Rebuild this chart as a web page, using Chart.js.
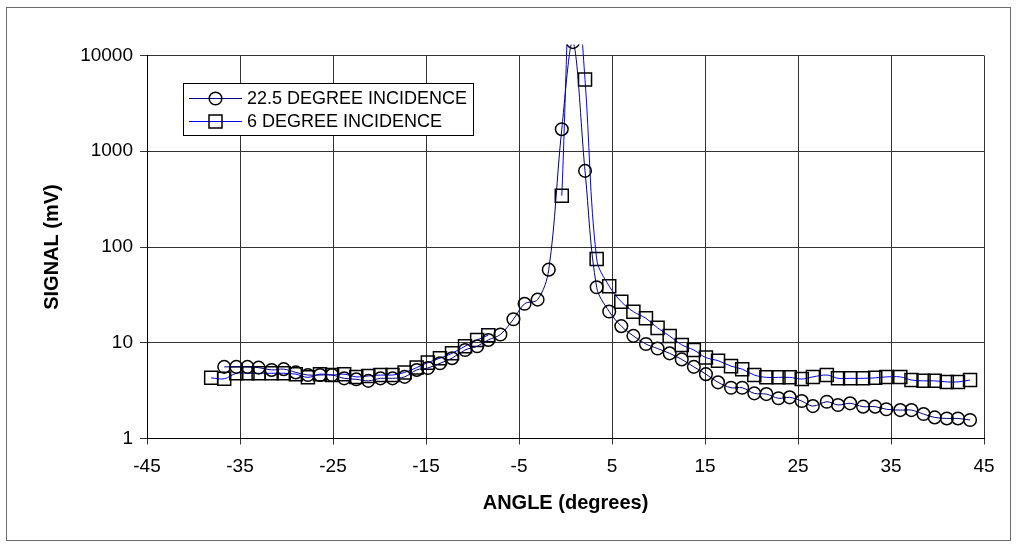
<!DOCTYPE html>
<html>
<head>
<meta charset="utf-8">
<script src="https://cdn.jsdelivr.net/npm/chart.js@4.4.1/dist/chart.umd.min.js"></script>
<style>
  html, body { margin: 0; padding: 0; background: #fff; }
  canvas { display: block; }
</style>
</head>
<body>
<canvas id="chart" width="1016" height="547"></canvas>
<script>
// Measurement angles (degrees), shared by both incidence series
const angles = [-38.1, -36.7, -35.4, -34.2, -33.0, -31.6, -30.3, -29.0, -27.7, -26.4,
  -25.1, -23.8, -22.5, -21.2, -19.9, -18.6, -17.3, -16.0, -14.8, -13.5,
  -12.2, -10.8, -9.5, -8.3, -7.0, -5.6, -4.4, -3.0, -1.8, -0.4,
  0.8, 2.1, 3.35, 4.7, 6.0, 7.3, 8.65, 9.9, 11.2, 12.5,
  13.8, 15.1, 16.4, 17.8, 19.0, 20.3, 21.6, 22.9, 24.1, 25.4,
  26.6, 28.1, 29.3, 30.6, 32.0, 33.3, 34.5, 36.0, 37.2, 38.5,
  39.7, 41.0, 42.2, 43.5];

// Signal (mV) at 22.5 degree incidence
const signal22 = [null, 5.6, 5.6, 5.6, 5.5, 5.2, 5.3, 4.9, 4.6, 4.6,
  4.6, 4.25, 4.15, 4.0, 4.25, 4.25, 4.4, 5.2, 5.45, 6.1,
  6.9, 8.4, 9.2, 10.7, 12.2, 17.6, 25.5, 28.2, 58, 1700,
  13800, 624, 38, 21.2, 14.9, 11.8, 9.7, 8.7, 7.75, 6.7,
  5.6, 4.7, 3.86, 3.39, 3.39, 2.96, 2.91, 2.63, 2.69, 2.46,
  2.18, 2.42, 2.24, 2.33, 2.15, 2.15, 2.02, 1.98, 1.98, 1.80,
  1.66, 1.62, 1.62, 1.56];

// Signal (mV) at 6 degree incidence (no readings between -8 and -1 degrees)
const signal6 = [4.3, 4.2, 4.8, 4.8, 4.8, 4.8, 4.8, 4.7, 4.35, 4.7,
  4.6, 4.7, 4.4, 4.5, 4.6, 4.6, 4.9, 5.5, 6.2, 6.9,
  7.75, 9.2, 10.7, 12.0, null, null, null, null, null, 343,
  150000, 5600, 75, 39, 26.8, 21.1, 18.0, 14.3, 11.75, 9.5,
  8.4, 7.0, 6.5, 5.7, 5.3, 4.6, 4.35, 4.35, 4.35, 4.18,
  4.4, 4.6, 4.25, 4.25, 4.25, 4.3, 4.4, 4.4, 4.08, 4.0,
  4.0, 3.9, 3.9, 4.08];

const seriesLabels = ['22.5 DEGREE INCIDENCE', '6 DEGREE INCIDENCE'];
const xTicks = [-45, -35, -25, -15, -5, 5, 15, 25, 35, 45];
const yTicks = [1, 10, 100, 1000, 10000];

const FONT = '"Liberation Sans", Arial, Helvetica, sans-serif';

const toPoints = (ys) => angles.map((a, i) => ({ x: a, y: ys[i] }));

// How far lines and markers may run past the plot area
const clipArea = { left: 10, top: 11, right: 10, bottom: 10 };

// White page with a thin frame round the whole chart
const framePlugin = {
  id: 'frame',
  beforeDraw(chart) {
    const ctx = chart.ctx;
    ctx.save();
    ctx.fillStyle = '#fff';
    ctx.fillRect(0, 0, chart.width, chart.height);
    ctx.restore();
  },
  afterDraw(chart) {
    const ctx = chart.ctx;
    ctx.save();
    ctx.strokeStyle = '#6a6a6a';
    ctx.lineWidth = 1;
    ctx.strokeRect(6.5, 7.5, 1004, 533);
    ctx.restore();
  }
};

function drawMarker(ctx, style, x, y, r) {
  ctx.beginPath();
  if (style === 'circle') {
    ctx.arc(x, y, r, 0, Math.PI * 2);
  } else {
    const h = r * Math.SQRT1_2;
    ctx.rect(x - h, y - h, 2 * h, 2 * h);
  }
  ctx.stroke();
}

// Markers just above the top of the axis (off-scale peak) are still shown,
// cut at the same margin as the lines; then the boxed legend is drawn.
const overlayPlugin = {
  id: 'overlay',
  afterDatasetsDraw(chart) {
    const ctx = chart.ctx;
    const area = chart.chartArea;
    ctx.save();
    ctx.beginPath();
    ctx.rect(area.left - clipArea.left, area.top - clipArea.top,
      area.right - area.left + clipArea.left + clipArea.right,
      area.bottom - area.top + clipArea.top + clipArea.bottom);
    ctx.clip();
    chart.data.datasets.forEach((ds, i) => {
      const meta = chart.getDatasetMeta(i);
      meta.data.forEach((pt) => {
        if (pt.skip || !isFinite(pt.y)) return;
        if (pt.y < area.top && pt.y > area.top - clipArea.top - ds.pointRadius) {
          ctx.strokeStyle = ds.pointBorderColor;
          ctx.lineWidth = ds.pointBorderWidth;
          drawMarker(ctx, ds.pointStyle, pt.x, pt.y, ds.pointRadius);
        }
      });
    });
    ctx.restore();

    const box = { x: 183.5, y: 83.5, w: 290, h: 52 };
    ctx.save();
    ctx.fillStyle = '#fff';
    ctx.fillRect(box.x, box.y, box.w, box.h);
    ctx.strokeStyle = '#000';
    ctx.lineWidth = 1;
    ctx.strokeRect(box.x, box.y, box.w, box.h);
    const rows = [98.5, 121.5];
    chart.data.datasets.forEach((ds, i) => {
      const y = rows[i];
      ctx.strokeStyle = ds.borderColor;
      ctx.lineWidth = 1;
      ctx.beginPath();
      ctx.moveTo(189, y);
      ctx.lineTo(242, y);
      ctx.stroke();
      ctx.strokeStyle = ds.pointBorderColor;
      ctx.lineWidth = ds.pointBorderWidth;
      drawMarker(ctx, ds.pointStyle, 215.5, y, ds.pointRadius);
      ctx.fillStyle = '#000';
      ctx.font = '18px ' + FONT;
      ctx.textBaseline = 'middle';
      ctx.textAlign = 'left';
      ctx.fillText(ds.label, 247, y + 1);
    });
    ctx.restore();
  }
};

new Chart(document.getElementById('chart'), {
  type: 'line',
  data: {
    datasets: [
      {
        label: seriesLabels[0],
        data: toPoints(signal22),
        borderColor: '#000080',
        borderWidth: 1,
        tension: 0.35,
        pointStyle: 'circle',
        pointRadius: 6.3,
        pointBorderWidth: 1.5,
        pointBorderColor: '#000',
        pointBackgroundColor: 'rgba(0,0,0,0)',
        spanGaps: false,
        clip: clipArea
      },
      {
        label: seriesLabels[1],
        data: toPoints(signal6),
        borderColor: '#0000ff',
        borderWidth: 1,
        tension: 0.35,
        pointStyle: 'rect',
        pointRadius: 9.2,
        pointBorderWidth: 1.5,
        pointBorderColor: '#000',
        pointBackgroundColor: 'rgba(0,0,0,0)',
        spanGaps: false,
        clip: clipArea
      }
    ]
  },
  options: {
    responsive: false,
    animation: false,
    devicePixelRatio: 1,
    layout: { padding: { top: 55.5, right: 32, bottom: 0, left: 0 } },
    plugins: {
      legend: { display: false },
      tooltip: { enabled: false }
    },
    scales: {
      x: {
        type: 'linear',
        min: -45,
        max: 45,
        afterBuildTicks: (s) => { s.ticks = xTicks.map(v => ({ value: v })); },
        afterFit: (s) => { s.height = 108.5; },
        ticks: {
          callback: (v) => String(v),
          color: '#000',
          font: { family: FONT, size: 19 },
          padding: 11,
          maxRotation: 0,
          autoSkip: false
        },
        grid: { color: '#333', lineWidth: 1, tickLength: 6, drawTicks: true },
        border: { color: '#000', width: 1 },
        title: {
          display: true,
          text: 'ANGLE (degrees)',
          color: '#000',
          font: { family: FONT, size: 20, weight: 'bold' },
          padding: { top: 0, bottom: 32 }
        }
      },
      y: {
        type: 'logarithmic',
        min: 1,
        max: 10000,
        afterBuildTicks: (s) => { s.ticks = yTicks.map(v => ({ value: v })); },
        afterFit: (s) => { s.width = 147; },
        ticks: {
          callback: (v) => String(v),
          color: '#000',
          font: { family: FONT, size: 19 },
          padding: 7
        },
        grid: { color: '#333', lineWidth: 1, tickLength: 7, drawTicks: true },
        border: { color: '#000', width: 1 },
        title: {
          display: true,
          text: 'SIGNAL (mV)',
          color: '#000',
          font: { family: FONT, size: 20, weight: 'bold' },
          padding: { top: 40, bottom: 0 }
        }
      }
    }
  },
  plugins: [framePlugin, overlayPlugin]
});
</script>
</body>
</html>
